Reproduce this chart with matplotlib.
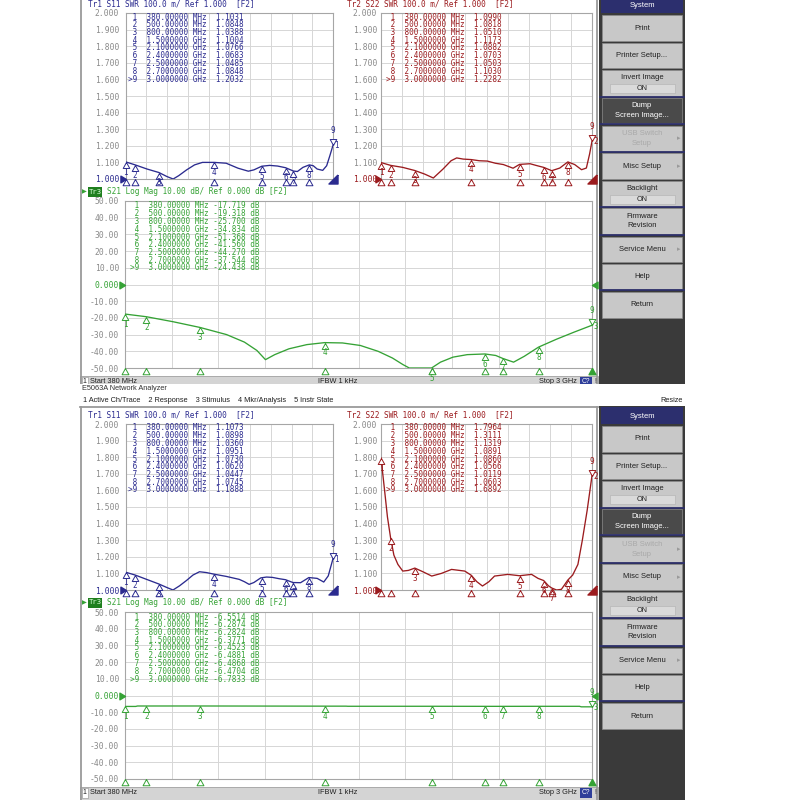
import numpy as np
import matplotlib
matplotlib.use("Agg")
import matplotlib.pyplot as plt
from matplotlib.patches import Rectangle

# ---------------- data ----------------
FREQ_START, FREQ_STOP = 380, 3000  # MHz
marker_freqs = [380, 500, 800, 1500, 2100, 2400, 2500, 2700, 3000]
marker_freq_labels = ["380.00000 MHz", "500.00000 MHz", "800.00000 MHz",
                      "1.5000000 GHz", "2.1000000 GHz", "2.4000000 GHz",
                      "2.5000000 GHz", "2.7000000 GHz", "3.0000000 GHz"]

swr_ticks = [1.0, 1.1, 1.2, 1.3, 1.4, 1.5, 1.6, 1.7, 1.8, 1.9, 2.0]
swr_tick_labels = ["1.000", "1.100", "1.200", "1.300", "1.400", "1.500",
                   "1.600", "1.700", "1.800", "1.900", "2.000"]
db_ticks = [-50, -40, -30, -20, -10, 0, 10, 20, 30, 40, 50]
db_tick_labels = ["-50.00", "-40.00", "-30.00", "-20.00", "-10.00", "0.000",
                  "10.00", "20.00", "30.00", "40.00", "50.00"]

# marker readouts
top_s11_mk = [1.1031, 1.0848, 1.0388, 1.1004, 1.0766, 1.0683, 1.0485, 1.0848, 1.2032]
top_s22_mk = [1.0990, 1.0818, 1.0510, 1.1173, 1.0882, 1.0703, 1.0503, 1.1030, 1.2282]
top_s21_mk = [-17.719, -19.318, -25.700, -34.834, -51.368, -41.560, -44.270, -37.544, -24.438]
bot_s11_mk = [1.1073, 1.0898, 1.0360, 1.0951, 1.0730, 1.0620, 1.0447, 1.0745, 1.1888]
bot_s22_mk = [1.7964, 1.3111, 1.1319, 1.0891, 1.0860, 1.0566, 1.0119, 1.0603, 1.6892]
bot_s21_mk = [-6.5514, -6.2874, -6.2824, -6.3771, -6.4523, -6.4881, -6.4868, -6.4704, -6.7833]

# traces (MHz, value)
top_s11_f = [380, 500, 650, 800, 900, 980, 1050, 1150, 1250, 1350, 1500, 1650, 1800,
             1930, 2000, 2100, 2200, 2300, 2400, 2450, 2500, 2550, 2620, 2700, 2750,
             2800, 2870, 2920, 2960, 3000]
top_s11_v = [1.103, 1.085, 1.060, 1.039, 1.015, 1.000, 1.020, 1.055, 1.085, 1.100, 1.100,
             1.095, 1.065, 1.047, 1.055, 1.077, 1.082, 1.078, 1.068, 1.058, 1.048, 1.045,
             1.070, 1.085, 1.080, 1.060, 1.052, 1.080, 1.140, 1.203]

top_s22_f = [380, 500, 650, 800, 920, 1030, 1150, 1250, 1320, 1400, 1500, 1600, 1700,
             1800, 1900, 2020, 2100, 2230, 2320, 2400, 2500, 2600, 2700, 2785, 2870,
             2930, 2970, 3000]
top_s22_v = [1.099, 1.082, 1.070, 1.051, 1.030, 1.006, 1.060, 1.110, 1.127, 1.120, 1.117,
             1.110, 1.108, 1.095, 1.087, 1.065, 1.088, 1.092, 1.080, 1.070, 1.050, 1.066,
             1.103, 1.087, 1.056, 1.066, 1.150, 1.228]

top_s21_f = [380, 500, 650, 800, 950, 1050, 1120, 1168, 1220, 1300, 1400, 1500, 1600,
             1700, 1800, 1880, 1940, 1975, 2100, 2150, 2220, 2300, 2400, 2460, 2500,
             2560, 2620, 2700, 2800, 2900, 3000]
top_s21_v = [-17.7, -19.3, -22.3, -25.7, -30.0, -34.5, -39.5, -45.0, -42.0, -38.5, -36.0,
             -34.8, -35.0, -36.5, -40.0, -44.0, -48.0, -50.0, -50.0, -46.5, -43.5, -42.0,
             -41.6, -42.5, -44.3, -46.5, -43.0, -37.5, -32.8, -28.5, -24.4]

bot_s11_f = [380, 500, 650, 800, 900, 978, 1060, 1150, 1230, 1313, 1400, 1500, 1650,
             1815, 1880, 1940, 2000, 2087, 2160, 2234, 2320, 2400, 2493, 2590, 2695,
             2800, 2883, 2940, 3000]
bot_s11_v = [1.107, 1.090, 1.063, 1.036, 1.015, 1.000, 1.025, 1.058, 1.090, 1.110, 1.105,
             1.095, 1.082, 1.064, 1.050, 1.034, 1.045, 1.073, 1.078, 1.076, 1.068, 1.062,
             1.045, 1.044, 1.075, 1.070, 1.048, 1.085, 1.189]

bot_s22_f = [380, 420, 460, 500, 540, 590, 650, 720, 800, 900, 1010, 1130, 1256, 1420,
             1500, 1570, 1640, 1720, 1790, 1955, 2100, 2250, 2330, 2400, 2460, 2500,
             2560, 2620, 2700, 2760, 2825, 2880, 2940, 3000]
bot_s22_v = [1.796, 1.620, 1.440, 1.311, 1.210, 1.154, 1.114, 1.118, 1.132, 1.110, 1.084,
             1.100, 1.124, 1.114, 1.089, 1.050, 1.024, 1.050, 1.084, 1.094, 1.086, 1.094,
             1.070, 1.057, 1.025, 1.012, 1.000, 1.004, 1.060, 1.090, 1.154, 1.300, 1.480,
             1.689]

bot_s21_f = [380, 440, 450, 800, 1500, 1620, 1630, 2100, 2400, 2500, 2700, 2930, 2940, 3000]
bot_s21_v = [-6.55, -6.55, -6.29, -6.28, -6.38, -6.38, -6.45, -6.45, -6.49, -6.49, -6.47,
             -6.47, -6.78, -6.78]

# ---------------- styling ----------------
W = H = 800
MONO = "DejaVu Sans Mono"
SANS = "Liberation Sans"
C11, C22, C21 = "#2b2b8f", "#9b1b1e", "#35a235"
GRID = "#d6d6d6"
TICKC = "#8a8a8a"

UP = [(0, 0), (-0.55, -1), (0.55, -1), (0, 0)]
DOWN = [(0, 0), (-0.55, 1), (0.55, 1), (0, 0)]
RIGHT = [(0, 0), (-1, 0.6), (-1, -0.6), (0, 0)]
LEFT = [(0, 0), (1, 0.6), (1, -0.6), (0, 0)]
CORNER = [(1, 1), (1, -1), (-1, -1), (1, 1)]

fig = plt.figure(figsize=(8, 8), dpi=100)
fig.patch.set_facecolor("white")


def overlay(z):
    a = fig.add_axes([0, 0, 1, 1], zorder=z)
    a.set_xlim(0, W)
    a.set_ylim(H, 0)
    a.axis("off")
    a.patch.set_alpha(0)
    return a


bg = overlay(0)


def rect(a, x0, y0, x1, y1, **kw):
    a.add_patch(Rectangle((x0, y0), x1 - x0, y1 - y0, **kw))


def make_plot(px, kind, tf, tv, mk, color, trno, pad):
    x0, y0, x1, y1 = px
    ax = fig.add_axes([x0 / W, 1 - y1 / H, (x1 - x0) / W, (y1 - y0) / H], zorder=1)
    ax.set_facecolor("white")
    ax.set_xlim(FREQ_START, FREQ_STOP)
    if kind == "swr":
        ticks, labels, ref = swr_ticks, swr_tick_labels, 1.0
    else:
        ticks, labels, ref = db_ticks, db_tick_labels, 0
    lo, hi = ticks[0], ticks[-1]
    ax.set_ylim(lo, hi)
    ax.set_yticks(ticks)
    ax.set_yticklabels(labels, family=MONO, fontsize=5.8, color=TICKC)
    for lab, t in zip(ax.get_yticklabels(), ticks):
        if t == ref:
            lab.set_color(color)
    ax.set_xticks(np.linspace(FREQ_START, FREQ_STOP, 11))
    ax.set_xticklabels([])
    ax.tick_params(length=0, pad=pad)
    ax.grid(True, color=GRID, lw=0.7)
    ax.set_axisbelow(True)
    for s in ax.spines.values():
        s.set_color("#a6a6a6")
        s.set_linewidth(0.8)
    ax.plot(tf, tv, color=color, lw=0.95, zorder=3)
    # markers 1..8 on the trace + stimulus markers at the bottom
    for i in range(8):
        f = marker_freqs[i]
        yv = max(mk[i], lo)
        ax.plot([f], [yv], marker=UP, ms=8.6, mfc="white", mec=color, mew=0.7,
                clip_on=False, zorder=5)
        ax.annotate(str(i + 1), (f, yv), xytext=(0, -7.4), textcoords="offset points",
                    ha="center", va="center", fontsize=5.5, family=MONO, color=color,
                    annotation_clip=False, zorder=6)
        ax.plot([f], [lo], marker=UP, ms=9, mfc="white", mec=color, mew=0.7,
                clip_on=False, zorder=5)
    # active marker 9
    f9, v9 = marker_freqs[8], mk[8]
    ax.plot([f9], [v9], marker=DOWN, ms=8.6, mfc="white", mec=color, mew=0.7,
            clip_on=False, zorder=6)
    ax.annotate("9", (f9, v9), xytext=(0, 10.5), textcoords="offset points",
                ha="center", va="center", fontsize=5.5, family=MONO, color=color,
                annotation_clip=False)
    ax.annotate(trno, (f9, v9), xytext=(2.5, -0.5), textcoords="offset points",
                ha="center", va="center", fontsize=5.5, family=MONO, color=color,
                annotation_clip=False)
    # reference level arrows
    ax.plot([FREQ_START], [ref], marker=RIGHT, ms=8, color=color, clip_on=False, zorder=6)
    if kind == "swr":
        ax.plot([FREQ_STOP], [lo], marker=CORNER, ms=6.5, color=color, clip_on=False, zorder=6)
    else:
        ax.plot([FREQ_STOP], [ref], marker=LEFT, ms=8, color=color, clip_on=False, zorder=6)
        ax.plot([FREQ_STOP], [lo], marker=UP, ms=9, color=color, clip_on=False, zorder=6)
    return ax


menu_buttons = [("System", -4, 13, "head"), ("Print", 15, 41, "btn"),
                ("Printer Setup...", 43, 68, "btn"), ("Invert Image", 70, 96, "toggle"),
                ("Dump\nScreen Image...", 98, 123, "dark"),
                ("USB Switch\nSetup", 126, 151, "disabled"), ("Misc Setup", 153, 179, "arrow"),
                ("Backlight", 181, 206, "toggle"), ("Firmware\nRevision", 208, 234, "btn"),
                ("Service Menu", 237, 262, "arrow"), ("Help", 264, 289, "btn"),
                ("Return", 292, 318, "btn")]
sep_lines = [97, 124, 152, 207, 235, 290]


def draw_screen(off, data, fg, bottom_end):
    # white screen area + borders
    rect(bg, 80, off - 6, 597, off + 392, fc="white", ec="none")
    bg.plot([80.5, 80.5], [off - 6, bottom_end], color="#9a9a9a", lw=1.3)
    bg.plot([597, 597], [off - 6, bottom_end], color="#9a9a9a", lw=1.3)
    # status bar
    sy = off + 376
    rect(bg, 80, sy, 598, sy + 14, fc="#d4d4d4", ec="#a0a0a0", lw=0.6)
    cy = sy + 5.8
    rect(bg, 81.5, sy + 1.2, 87.5, sy + 10.5, fc="white", ec="#8a8a8a", lw=0.4)
    bg.text(84.5, cy, "1", fontsize=5, family=SANS, ha="center", va="center", color="#202020")
    bg.text(90, cy, "Start 380 MHz", fontsize=5.3, family=SANS, ha="left", va="center", color="#202020")
    bg.text(338, cy, "IFBW 1 kHz", fontsize=5.3, family=SANS, ha="center", va="center", color="#202020")
    bg.text(577, cy, "Stop 3 GHz", fontsize=5.3, family=SANS, ha="right", va="center", color="#202020")
    rect(bg, 580, sy + 1.2, 592, sy + 10.5, fc="#2f3f9a", ec="none")
    bg.text(586, cy, "C?", fontsize=4.8, family=SANS, ha="center", va="center", color="white")
    bg.text(595, cy, "!", fontsize=4.8, family=SANS, ha="center", va="center", color="#303030")
    # menu panel
    rect(bg, 599, off - 6, 685, bottom_end, fc="#3a3a3a", ec="none")
    for lab, y0, y1, st in menu_buttons:
        y0, y1 = y0 + off, y1 + off
        if st == "head":
            rect(bg, 601, y0, 683, y1, fc="#2c2f6e", ec="none")
            bg.text(642, (y0 + y1) / 2 + 1, lab, fontsize=5.5, family=SANS, ha="center",
                    va="center", color="white")
            continue
        fc = "#4a4a4a" if st == "dark" else "#c8c8c8"
        rect(bg, 602, y0, 682, y1, fc=fc, ec="#8c8c8c", lw=0.5)
        tc = "white" if st == "dark" else ("#a9a9a9" if st == "disabled" else "#202020")
        if st == "toggle":
            bg.text(642, y0 + 7.5, lab, fontsize=5.5, family=SANS, ha="center", va="center", color=tc)
            rect(bg, 610, y0 + 14, 675, y0 + 23, fc="#dadada", ec="#b0b0b0", lw=0.4)
            bg.text(642, y0 + 18.5, "ON", fontsize=5.2, family=SANS, ha="center", va="center", color=tc)
        else:
            bg.text(642, (y0 + y1) / 2, lab, fontsize=5.5, family=SANS, ha="center",
                    va="center", color=tc, linespacing=1.5)
        if st in ("arrow", "disabled"):
            bg.text(679, (y0 + y1) / 2, "\u25B8", fontsize=5, family="DejaVu Sans",
                    ha="center", va="center", color="#9a9a9a")
    for s in sep_lines:
        bg.plot([600, 684], [s + off, s + off], color="#2c2f6e", lw=1.2)

    # plots
    make_plot((125.7, off + 13, 333, off + 179), "swr", data["s11_f"], data["s11_v"],
              data["s11_mk"], C11, "1", 4.8)
    make_plot((381, off + 13, 592, off + 179), "swr", data["s22_f"], data["s22_v"],
              data["s22_mk"], C22, "2", 2.7)
    make_plot((125, off + 201, 592, off + 368), "db", data["s21_f"], data["s21_v"],
              data["s21_mk"], C21, "3", 4.3)

    # headers
    fg.text(88, off + 3.5, "Tr1 S11 SWR 100.0 m/ Ref 1.000  [F2]", fontsize=5.6,
            family=MONO, color=C11, ha="left", va="center", zorder=5)
    fg.text(347, off + 3.5, "Tr2 S22 SWR 100.0 m/ Ref 1.000  [F2]", fontsize=5.6,
            family=MONO, color=C22, ha="left", va="center", zorder=5)
    hy = off + 191.5
    fg.text(84, hy, "\u25B6", fontsize=4.5, family="DejaVu Sans", color=C21,
            ha="center", va="center", zorder=5)
    rect(fg, 88, hy - 5, 102, hy + 5, fc="#1f7f1f", ec="none", zorder=5)
    fg.text(95, hy, "Tr3", fontsize=5.2, family=MONO, color="#d8ffd8", ha="center",
            va="center", zorder=6)
    fg.text(107, hy, "S21 Log Mag 10.00 dB/ Ref 0.000 dB [F2]", fontsize=5.6,
            family=MONO, color=C21, ha="left", va="center", zorder=5)

    # marker tables
    def table(x, y, mk, color, fmt, unit_sfx):
        for i in range(9):
            p = ">9" if i == 8 else str(i + 1)
            fl = marker_freq_labels[i]
            if unit_sfx:
                s = f"{p:>2}  {fl} {fmt.format(mk[i])} dB"
            else:
                s = f"{p:>2}  {fl}  {fmt.format(mk[i])}"
            fg.text(x, y + 7.75 * i, s, fontsize=5.5, family=MONO, color=color,
                    ha="left", va="center", zorder=5)

    table(128.5, off + 17, data["s11_mk"], C11, "{:.4f}", False)
    table(386, off + 17, data["s22_mk"], C22, "{:.4f}", False)
    table(130.5, off + 206, data["s21_mk"], C21, data["s21_fmt"], True)


# top screenshot (cut at the bottom by the window title area of the second one)
fg_top = overlay(2)
draw_screen(0, dict(s11_f=top_s11_f, s11_v=top_s11_v, s11_mk=top_s11_mk,
                    s22_f=top_s22_f, s22_v=top_s22_v, s22_mk=top_s22_mk,
                    s21_f=top_s21_f, s21_v=top_s21_v, s21_mk=top_s21_mk,
                    s21_fmt="{:.3f}"), fg_top, 384)

cover = overlay(3)
rect(cover, 70, 384, 800, 406, fc="white", ec="none")
cover.text(82, 389, "E5063A Network Analyzer", fontsize=5.3, family=SANS, color="#303030",
           ha="left", va="center")
cover.text(83, 400.5, "1 Active Ch/Trace    2 Response    3 Stimulus    4 Mkr/Analysis    5 Instr State",
           fontsize=5.3, family=SANS, color="#202020", ha="left", va="center")
cover.text(683, 400.5, "Resize", fontsize=5.3, family=SANS, color="#202020",
           ha="right", va="center")
cover.plot([80, 598], [406.5, 406.5], color="#9a9a9a", lw=1.3)

# bottom screenshot
fg_bot = overlay(4)
draw_screen(411, dict(s11_f=bot_s11_f, s11_v=bot_s11_v, s11_mk=bot_s11_mk,
                      s22_f=bot_s22_f, s22_v=bot_s22_v, s22_mk=bot_s22_mk,
                      s21_f=bot_s21_f, s21_v=bot_s21_v, s21_mk=bot_s21_mk,
                      s21_fmt="{:.4f}"), fg_bot, 800)

fig.savefig("out.png", dpi=100, facecolor="white")
